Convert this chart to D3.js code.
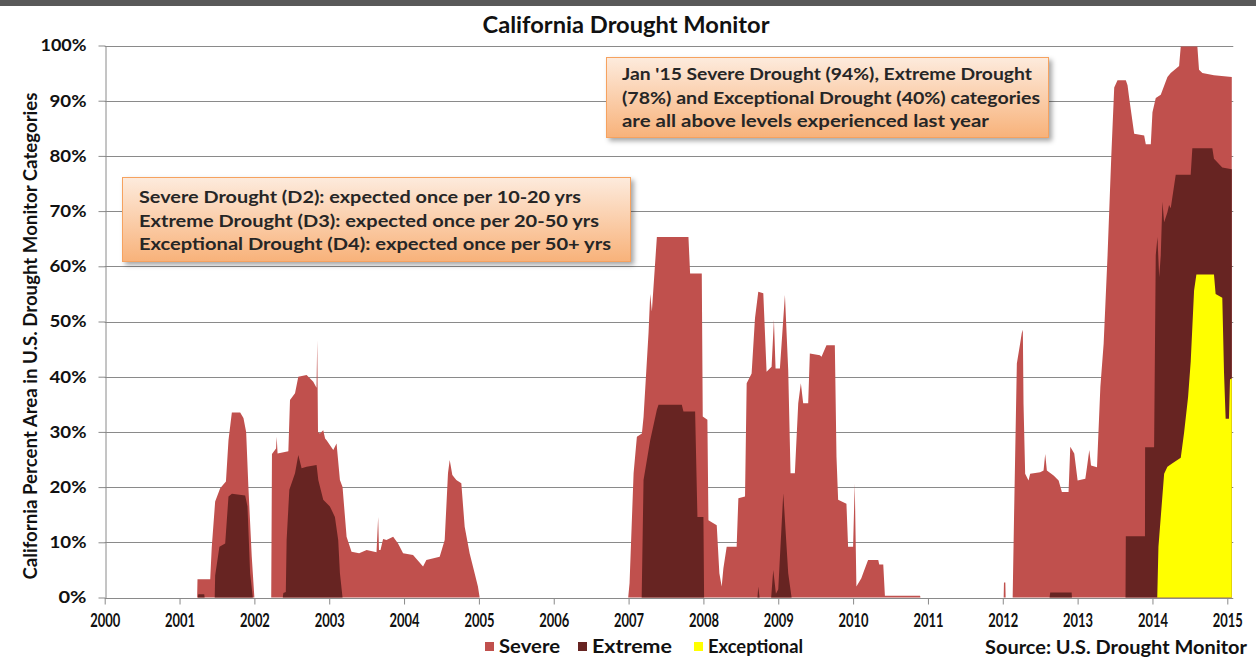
<!DOCTYPE html>
<html>
<head>
<meta charset="utf-8">
<script src="https://cdn.jsdelivr.net/npm/d3@7"></script>
<style>
  body { margin: 0; background: #fff; }
  svg { display: block; font-family: Lato, "Open Sans", sans-serif; }
</style>
</head>
<body>
<svg id="chart" width="1256" height="666"></svg>
<script>
// ************************** DATA **************************//
// [decimal year, % of California area]

var severe = [
  [2000,0],[2001.235,0],[2001.24,3.3],[2001.41,3.3],[2001.43,9],[2001.476,17.4],[2001.543,19.8],[2001.62,21],[2001.654,28.5],[2001.699,33.5],[2001.81,33.5],[2001.854,32.5],[2001.89,30],[2001.92,20],[2001.965,7.4],[2002.0,0],
  [2002.225,0],[2002.235,26],[2002.29,27],[2002.298,29.1],[2002.31,26.1],[2002.454,26.5],[2002.476,35.8],[2002.543,37],[2002.587,40],[2002.698,40.3],[2002.787,39.1],[2002.83,38],[2002.84,46.6],[2002.85,30],[2002.876,29.7],[2002.92,30.3],[2002.945,28.8],[2002.965,28.5],[2003.054,26.7],[2003.098,27.9],[2003.143,21.3],[2003.178,20],[2003.232,11],[2003.298,8.3],[2003.4,8.0],[2003.5,8.6],[2003.632,8.2],[2003.654,14.6],[2003.665,8.6],[2003.685,8.6],[2003.72,10.6],[2003.765,10.4],[2003.854,11],[2003.92,9.8],[2003.987,8],[2004.12,7.7],[2004.254,5.6],[2004.298,6.8],[2004.476,7.4],[2004.543,10.4],[2004.587,22.5],[2004.61,24.9],[2004.645,22.2],[2004.698,21.3],[2004.765,20.7],[2004.81,12.8],[2004.876,8],[2004.943,4.4],[2004.987,2],[2005.01,0],
  [2006.995,0],[2007.013,2.6],[2007.067,22.5],[2007.111,29.1],[2007.178,29.7],[2007.2,32.7],[2007.267,48],[2007.289,55],[2007.311,51.8],[2007.378,65.3],[2007.8,65.3],[2007.822,58.7],[2007.978,58.7],[2007.991,32.8],[2008.053,32.2],[2008.067,14],[2008.178,13.1],[2008.213,4.4],[2008.244,2],[2008.267,5.3],[2008.311,9.2],[2008.444,9.2],[2008.467,18],[2008.556,18.3],[2008.578,38.8],[2008.644,40.6],[2008.689,50.6],[2008.733,55.4],[2008.8,55.1],[2008.844,40.9],[2008.911,41.8],[2008.942,50.3],[2008.964,41.5],[2009.022,41.5],[2009.089,54.8],[2009.133,41.2],[2009.164,22.5],[2009.222,22.5],[2009.267,35.2],[2009.302,38.8],[2009.333,35.2],[2009.4,35.2],[2009.422,44.2],[2009.556,43.9],[2009.578,43.6],[2009.644,45.7],[2009.756,45.7],[2009.778,25.5],[2009.8,17.7],[2009.911,17],[2009.933,9.2],[2010.0,9.2],[2010.022,20.7],[2010.044,2],[2010.11,3.5],[2010.134,4.4],[2010.2,6.8],[2010.336,6.8],[2010.349,6.0],[2010.403,6.0],[2010.425,0.3],[2010.895,0.3],[2010.9,0],
  [2012.012,0],[2012.016,2.7],[2012.034,2.7],[2012.038,0],[2012.132,0],[2012.152,15.8],[2012.188,42.4],[2012.232,46],[2012.254,47.9],[2012.268,48.5],[2012.277,35.2],[2012.299,22.4],[2012.344,21.2],[2012.366,22.4],[2012.5,22.7],[2012.545,23],[2012.567,26],[2012.589,23],[2012.679,22.1],[2012.746,21.2],[2012.79,19.1],[2012.879,19.1],[2012.902,27.3],[2012.955,26.1],[2013.0,21.2],[2013.103,21.5],[2013.125,23.6],[2013.156,26.7],[2013.179,23.9],[2013.259,23.6],[2013.304,38.2],[2013.348,46],[2013.4,62],[2013.45,80],[2013.489,92.4],[2013.533,93.7],[2013.644,93.7],[2013.667,92.8],[2013.689,90.5],[2013.756,84],[2013.889,83.7],[2013.911,82.1],[2013.978,82.1],[2014.0,87.9],[2014.044,90.5],[2014.111,91.1],[2014.2,94.3],[2014.244,95],[2014.356,96.3],[2014.378,99.8],[2014.6,99.8],[2014.622,95.6],[2014.667,95],[2014.822,94.6],[2015.06,94.3]
];

var extreme = [
  [2000,0],[2001.245,0],[2001.25,0.6],[2001.33,0.6],[2001.335,0],[2001.47,0],[2001.476,4],[2001.533,9.2],[2001.61,9.8],[2001.654,18.3],[2001.7,18.8],[2001.877,18.5],[2001.908,16.5],[2001.943,4.4],[2001.979,0],
  [2002.38,0],[2002.387,0.8],[2002.42,1],[2002.431,10.4],[2002.467,19.5],[2002.543,22.5],[2002.587,25.8],[2002.631,23.4],[2002.698,23.7],[2002.831,24],[2002.854,21.3],[2002.92,17.7],[2003.009,16.5],[2003.076,14.6],[2003.12,10.4],[2003.143,4.4],[2003.178,0],
  [2007.175,0],[2007.2,21.3],[2007.289,28.5],[2007.378,34],[2007.4,34.9],[2007.711,34.9],[2007.733,33.7],[2007.889,33.7],[2007.92,14.6],[2008.0,14.6],[2008.009,0],
  [2008.722,0],[2008.733,2],[2008.75,0],[2008.905,0],[2008.933,5],[2008.969,0.7],[2009.0,1.5],[2009.067,18.9],[2009.133,4.4],[2009.178,0],
  [2012.625,0],[2012.634,0.9],[2012.92,0.9],[2012.924,0],
  [2013.64,0],[2013.644,11.1],[2013.9,11.1],[2013.902,27.2],[2014.022,27.2],[2014.044,62],[2014.067,65.3],[2014.09,58],[2014.111,62],[2014.133,71.7],[2014.156,68],[2014.2,69.8],[2014.222,71.1],[2014.244,70.5],[2014.311,76.6],[2014.511,76.6],[2014.533,81.4],[2014.8,81.4],[2014.822,79.5],[2014.933,77.9],[2015.06,77.6]
];

var exceptional = [
  [2000,0],[2014.064,0],[2014.08,9.2],[2014.156,22.4],[2014.2,23.7],[2014.267,24.3],[2014.378,25.3],[2014.422,29.8],[2014.476,36.3],[2014.511,42.7],[2014.556,55.6],[2014.587,58.5],[2014.822,58.5],[2014.844,55],[2014.933,54.3],[2014.956,40.8],[2014.978,32.4],[2015.022,32.4],[2015.036,39.5],[2015.06,39.7]
];

var seriesNames = ["Severe", "Extreme", "Exceptional"];
var seriesColors = ["#c0504d", "#672422", "#ffff00"];
var yearTicks = [2000,2001,2002,2003,2004,2005,2006,2007,2008,2009,2010,2011,2012,2013,2014,2015];
var pctTicks = [0,10,20,30,40,50,60,70,80,90,100];

var noteRecent = [
  "Jan '15 Severe Drought (94%), Extreme Drought",
  "(78%) and Exceptional Drought (40%) categories",
  "are all above levels experienced last year"
];
var noteRecentWidths = [410, 418, 367];
var noteFrequency = [
  "Severe Drought (D2): expected once per 10-20 yrs",
  "Extreme Drought (D3): expected once per 20-50 yrs",
  "Exceptional Drought (D4): expected once  per 50+ yrs"
];
var noteFrequencyWidths = [442, 460, 472];

// ************************** SCALES **************************//
var svg = d3.select("#chart");

var x = d3.scaleLinear().domain([2000, 2015]).range([104.7, 1227.3]);
var y = d3.scaleLinear().domain([0, 100]).range([597.5, 45.5]);
var xLeft = x(2000), xRight = x(2015.08);

var defs = svg.append("defs");
var grad = defs.append("linearGradient").attr("id", "noteFill")
  .attr("x1", 0).attr("y1", 0).attr("x2", 0).attr("y2", 1);
grad.append("stop").attr("offset", "0%").attr("stop-color", "#fdebdd");
grad.append("stop").attr("offset", "100%").attr("stop-color", "#f8b27a");
var shadow = defs.append("filter").attr("id", "noteShadow")
  .attr("x", "-5%").attr("y", "-10%").attr("width", "115%").attr("height", "135%");
shadow.append("feDropShadow").attr("dx", 3).attr("dy", 3).attr("stdDeviation", 2.5)
  .attr("flood-color", "#000").attr("flood-opacity", 0.35);

// top bar + title
svg.append("rect").attr("x", 0).attr("y", 0).attr("width", 1256).attr("height", 6).attr("fill", "#595959");

svg.append("text")
  .attr("x", 626).attr("y", 33)
  .attr("text-anchor", "middle")
  .attr("font-size", 23).attr("font-weight", "bold").attr("fill", "#111")
  .attr("textLength", 287).attr("lengthAdjust", "spacingAndGlyphs")
  .text("California Drought Monitor");

// gridlines
svg.append("g")
  .selectAll("line")
  .data(pctTicks.filter(d => d > 0))
  .join("line")
  .attr("x1", xLeft).attr("x2", xRight)
  .attr("y1", d => Math.round(y(d)) + 0.5).attr("y2", d => Math.round(y(d)) + 0.5)
  .attr("stroke", "#8a8a8a").attr("stroke-width", 1);

// areas
var area = d3.area()
  .x(d => x(d[0]))
  .y0(y(0))
  .y1(d => y(d[1]));

svg.append("g")
  .selectAll("path")
  .data([severe, extreme, exceptional])
  .join("path")
  .attr("d", area)
  .attr("fill", (d, i) => seriesColors[i]);

// axes
var yAxis = svg.append("g")
  .attr("transform", `translate(${Math.round(xLeft) + 0.5},0)`)
  .call(d3.axisLeft(y).tickValues(pctTicks).tickFormat(d => d + "%").tickSize(7).tickPadding(12).tickSizeOuter(0));
yAxis.select(".domain").attr("stroke", "#8a8a8a");
yAxis.selectAll(".tick line").attr("stroke", "#8a8a8a");
yAxis.selectAll(".tick text")
  .attr("font-family", "Lato, sans-serif").attr("font-size", 17).attr("font-weight", "bold").attr("fill", "#111")
  .attr("textLength", d => d === 100 ? 46 : d === 0 ? 28 : 37).attr("lengthAdjust", "spacingAndGlyphs");

var xAxis = svg.append("g")
  .attr("transform", `translate(0,${Math.round(y(0)) + 0.5})`)
  .call(d3.axisBottom(x).tickValues(yearTicks).tickFormat(d3.format("d")).tickSize(6).tickPadding(9).tickSizeOuter(0));
xAxis.select(".domain").attr("stroke", "#8a8a8a").attr("d", `M${xLeft},0H${xRight}`);
xAxis.selectAll(".tick line").attr("stroke", "#8a8a8a");
xAxis.selectAll(".tick text")
  .attr("font-family", "Lato, sans-serif").attr("font-size", 19).attr("font-weight", "bold").attr("fill", "#111")
  .attr("textLength", 30).attr("lengthAdjust", "spacingAndGlyphs");

// y axis title
svg.append("text")
  .attr("transform", "translate(37,336) rotate(-90)")
  .attr("text-anchor", "middle")
  .attr("font-size", 18).attr("font-weight", "bold").attr("fill", "#111")
  .attr("textLength", 487).attr("lengthAdjust", "spacingAndGlyphs")
  .text("California Percent Area in U.S. Drought Monitor Categories");

// ************************** LEGEND **************************//
var legendX = [485, 578, 694];
var legendW = [61, 80, 95];
var legend = svg.append("g")
  .selectAll("g")
  .data(seriesNames)
  .join("g")
  .attr("transform", (d, i) => `translate(${legendX[i]},642)`);
legend.append("rect").attr("width", 9).attr("height", 9).attr("fill", (d, i) => seriesColors[i]);
legend.append("text")
  .attr("x", 14).attr("y", 11)
  .attr("font-size", 18).attr("font-weight", "bold").attr("fill", "#111")
  .attr("textLength", (d, i) => legendW[i]).attr("lengthAdjust", "spacingAndGlyphs")
  .text(d => d);

svg.append("text")
  .attr("x", 1247).attr("y", 654)
  .attr("text-anchor", "end")
  .attr("font-size", 18).attr("font-weight", "bold").attr("fill", "#111")
  .attr("textLength", 262).attr("lengthAdjust", "spacingAndGlyphs")
  .text("Source: U.S. Drought Monitor");

// ************************** NOTES **************************//
function drawNote(bx, by, bw, bh, lines, widths, tx, ty) {
  var g = svg.append("g");
  g.append("rect")
    .attr("x", bx + 0.5).attr("y", by + 0.5).attr("width", bw).attr("height", bh)
    .attr("fill", "url(#noteFill)").attr("stroke", "#f6a25e").attr("stroke-width", 1)
    .attr("filter", "url(#noteShadow)");
  g.selectAll("text")
    .data(lines)
    .join("text")
    .attr("x", tx).attr("y", (d, i) => ty + i * 23.5)
    .attr("font-size", 17.5).attr("font-weight", "bold").attr("fill", "#262626")
    .attr("textLength", (d, i) => widths[i]).attr("lengthAdjust", "spacingAndGlyphs")
    .text(d => d);
}

drawNote(606, 57, 442, 80, noteRecent, noteRecentWidths, 622, 80);
drawNote(122, 177, 508, 84, noteFrequency, noteFrequencyWidths, 139, 203);
</script>
</body>
</html>
